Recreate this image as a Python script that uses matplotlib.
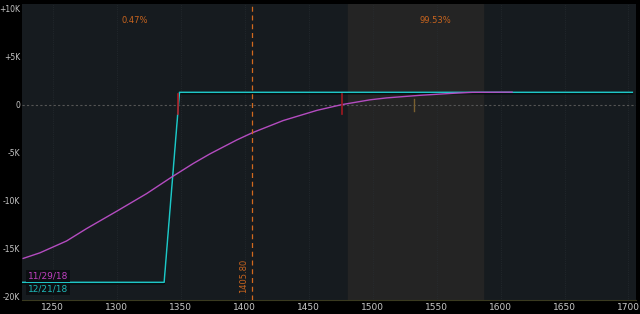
import matplotlib.pyplot as plt
import numpy as np

plt.rcParams['font.family'] = ['Liberation Sans Narrow', 'DejaVu Sans']

# P/L curves
exp_x = [1225, 1337, 1349, 1703]
exp_pl = [-18570, -18570, 1280, 1280]

now_x = [1226.8, 1239.8, 1260.7, 1276.4, 1299.8, 1323.3, 1342.9, 1359.8, 1372.8,
         1393.7, 1405.8, 1430, 1456.5, 1476, 1498, 1511, 1537, 1563, 1578, 1609]
now_pl = [-16070, -15490, -14250, -12950, -11150, -9300, -7570, -6150, -5150,
          -3700, -2950, -1670, -600, 0, 500, 700, 970, 1180, 1280, 1300]

price = 1405.80
prob_lo = '0.47%'
prob_hi = '99.53%'
shade = (1481, 1586)
xticks = [1250, 1300, 1350, 1400, 1450, 1500, 1550, 1600, 1650, 1700]
yticks = [10000, 5000, 0, -5000, -10000, -15000, -20000]
ylabels = ['+10K', '+5K', '0', '-5K', '-10K', '-15K', '-20K']

fig = plt.figure(figsize=(6.4, 3.14), dpi=100, facecolor='black')
ax = fig.add_axes([0.034, 0.045, 0.96, 0.942])
ax.set_facecolor('#161b1f')

ax.axvspan(shade[0], shade[1], color='#242424', zorder=0)
for xt in xticks:
    ax.axvline(xt, color='#2a3035', lw=0.5, ls=':', zorder=0.5)
ax.axhline(0, color='#555555', lw=0.8, ls=(0, (2, 2)), zorder=1)

ax.plot(exp_x, np.array(exp_pl) - 120, color='black', lw=1.2, zorder=2)
ax.plot(exp_x, exp_pl, color='#1fc6c6', lw=1.1, zorder=3)
ax.plot(now_x, now_pl, color='#b44cc0', lw=1.0, zorder=4)

ax.axvline(price, color='#d2691e', lw=0.9, ls=(0, (4, 3)), zorder=5)

# small markers
ax.plot([1348, 1348], [-940, 1150], color='#b01820', lw=1.2, zorder=6)
ax.plot([1476, 1476], [-940, 1150], color='#a01820', lw=1.2, zorder=6)
ax.plot([1532, 1532], [-630, 630], color='#7a6030', lw=1.0, zorder=6)

ax.text(1314, 8800, prob_lo, color='#c8641e', fontsize=6, ha='center', va='center')
ax.text(1549, 8800, prob_hi, color='#c8641e', fontsize=6, ha='center', va='center')
ax.text(price - 3.5, -17900, '%.2f' % price, color='#c8641e', fontsize=6,
        rotation=90, ha='right', va='center')

ax.text(1230.5, -17900, '11/29/18', color='#c040c0', fontsize=6.5, va='center',
        bbox=dict(facecolor='#0c0f12', edgecolor='none', pad=1.2), zorder=7)
ax.text(1230.5, -19300, '12/21/18', color='#1fb8b8', fontsize=6.5, va='center',
        bbox=dict(facecolor='#0c0f12', edgecolor='none', pad=1.2), zorder=7)

ax.set_xlim(1225.7, 1706)
ax.set_ylim(-20400, 10500)
ax.set_xticks(xticks)
ax.set_yticks(yticks)
ax.set_yticklabels(ylabels)
ax.tick_params(colors='#c8c8c8', labelsize=6.5, length=0, pad=2)
ax.tick_params(axis='y', labelsize=5.5, pad=1)
for s in ax.spines.values():
    s.set_visible(False)
ax.spines['bottom'].set_visible(True)
ax.spines['bottom'].set_color('#3a3a20')
ax.spines['bottom'].set_linewidth(0.8)

plt.savefig('out.png', dpi=100, facecolor='black')
